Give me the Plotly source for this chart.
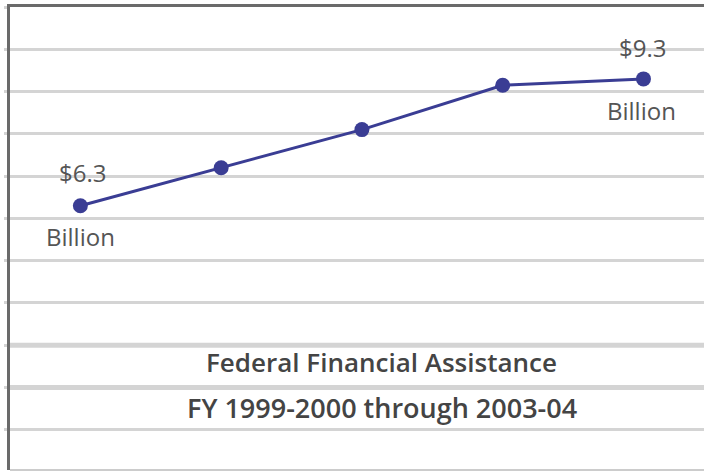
import plotly.graph_objects as go

years = ["1999-2000", "2000-01", "2001-02", "2002-03", "2003-04"]
values = [6.3, 7.2, 8.1, 9.15, 9.3]
first_label = "$6.3"
last_label = "$9.3"
unit = "Billion"
title_lines = ["Federal Financial Assistance", "FY 1999-2000 through 2003-04"]

line_color = "#3a3d94"
text_color = "#555555"
grid_color = "#d4d4d4"
font_family = "Open Sans, Noto Sans, sans-serif"

fig = go.Figure()
fig.add_trace(go.Scatter(
    x=years, y=values, mode="lines+markers",
    line=dict(color=line_color, width=3),
    marker=dict(color=line_color, size=15),
    hoverinfo="skip",
))

# thicker rules framing the caption
for yv in (2, 3):
    fig.add_shape(type="line", xref="paper", x0=0, x1=1, yref="y", y0=yv, y1=yv,
                  line=dict(color=grid_color, width=5), layer="below")
# light bottom edge
fig.add_shape(type="line", xref="paper", x0=0, x1=1, yref="paper", y0=0, y1=0,
              line=dict(color="#cccccc", width=2), layer="below")

lab = dict(size=24, color=text_color)
ann = []
ann.append(dict(x=years[0], y=values[0], text=first_label, showarrow=False,
                xanchor="center", yanchor="middle", xshift=2, yshift=33, font=lab))
ann.append(dict(x=years[0], y=values[0], text=unit, showarrow=False,
                xanchor="center", yanchor="middle", yshift=-31, font=lab))
ann.append(dict(x=years[-1], y=values[-1], text=last_label, showarrow=False,
                xanchor="center", yanchor="middle", xshift=-1, yshift=31, font=lab))
ann.append(dict(x=years[-1], y=values[-1], text=unit, showarrow=False,
                xanchor="center", yanchor="middle", xshift=-2, yshift=-32, font=lab))
ann.append(dict(xref="paper", yref="paper", x=0.536, y=0.233, text=title_lines[0],
                xanchor="center", yanchor="middle",
                showarrow=False, font=dict(size=26, color="#444444", weight=600)))
ann.append(dict(xref="paper", yref="paper", x=0.536, y=0.134, text=title_lines[1],
                xanchor="center", yanchor="middle",
                showarrow=False, font=dict(size=27, color="#444444", weight=600)))

fig.update_layout(
    width=704, height=471,
    margin=dict(l=10, r=0, t=7, b=1),
    paper_bgcolor="white", plot_bgcolor="white",
    showlegend=False,
    font=dict(family=font_family, color=text_color),
    annotations=ann,
    xaxis=dict(type="category", range=[-0.5, 4.43], side="top", showline=True,
               linecolor="#6a6a6a", linewidth=2.5, showgrid=False,
               showticklabels=False, ticks="", zeroline=False, fixedrange=True),
    yaxis=dict(range=[0.05, 11], dtick=1, tick0=0, showgrid=True, gridcolor=grid_color,
               gridwidth=3, showline=True, linecolor="#6a6a6a", linewidth=2.5,
               zeroline=False, showticklabels=False, ticks="outside", ticklen=3,
               tickwidth=3, tickcolor=grid_color, fixedrange=True),
)

fig.write_html("out.html", config={"displayModeBar": False},
               post_script="document.body.style.margin='0';document.body.style.overflow='hidden';")
